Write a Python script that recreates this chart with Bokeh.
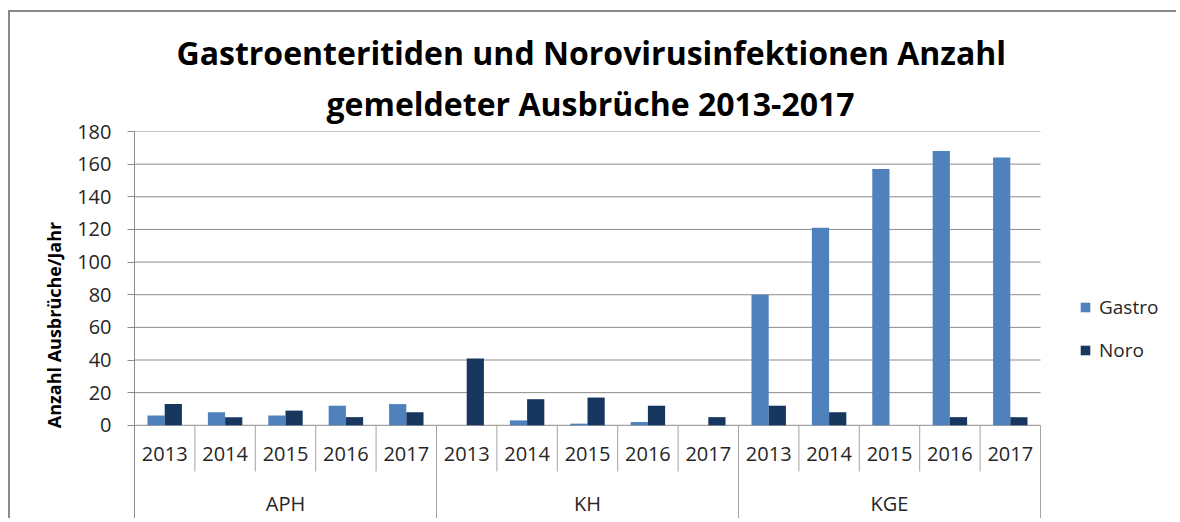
from bokeh.plotting import figure
from bokeh.models import ColumnDataSource, Range1d, FixedTicker, Legend, LegendItem, Title
from bokeh.core.properties import value
from bokeh.transform import dodge
from bokeh.embed import file_html
from bokeh.resources import INLINE

# ---------------- data ----------------
groups = ["APH", "KH", "KGE"]
years = ["2013", "2014", "2015", "2016", "2017"]

gastro_aph = [6, 8, 6, 12, 13]
noro_aph = [13, 5, 9, 5, 8]
gastro_kh = [0, 3, 1, 2, 0]
noro_kh = [41, 16, 17, 12, 5]
gastro_kge = [80, 121, 157, 168, 164]
noro_kge = [12, 8, 0, 5, 5]

y_ticks = [0, 20, 40, 60, 80, 100, 120, 140, 160, 180]
series_names = ["Gastro", "Noro"]
title_lines = ["Gastroenteritiden und Norovirusinfektionen Anzahl",
               "gemeldeter Ausbrüche 2013-2017"]
y_label = "Anzahl Ausbrüche/Jahr"

# ---------------- styling ----------------
C_GASTRO = "#4F81BD"
C_NORO = "#17375E"
GRID = "#8C8C8C"
SEP = "#A3A3A3"
TXT = "#262626"
FONT = "Open Sans"
BAR_W = 0.285
Y_MIN = -57.1          # space below zero used for the category labels
YEAR_LABEL_Y = -17.8
GROUP_LABEL_Y = -47.9
YEAR_SEP_Y = -28.3
PLOT_PX = 906          # width of the category area in px
FRAME_PX = 1036        # frame width incl. legend area in px
FIG_W = 1168

gastro = gastro_aph + gastro_kh + gastro_kge
noro = noro_aph + noro_kh + noro_kge
n_years = len(years)
slots = [(g, y) for g in groups for y in years]
n_slots = len(slots)
centers = [i + 0.5 for i in range(n_slots)]
x_max = n_slots * FRAME_PX / PLOT_PX

src = ColumnDataSource(dict(
    x=centers,
    gastro=gastro,
    noro=noro,
    year=[s[1] for s in slots],
    group=[s[0] for s in slots],
))

p = figure(width=FIG_W, height=508,
           x_range=Range1d(0, x_max), y_range=Range1d(Y_MIN, y_ticks[-1]),
           output_backend="svg", toolbar_location=None, title=None,
           x_axis_location=None,
           min_border_left=124, min_border_right=FIG_W - 124 - FRAME_PX,
           min_border_top=119, min_border_bottom=2,
           outline_line_color=None)
p.styles = {"border-left": "2px solid #8A8A8A", "border-top": "2px solid #8A8A8A",
            "border-right": "none", "border-bottom": "none",
            "margin-left": "8px", "margin-top": "10px"}

# horizontal grid lines (only across the category area)
p.segment(x0=[0] * len(y_ticks), y0=y_ticks, x1=[n_slots] * len(y_ticks), y1=y_ticks,
          line_color=GRID, line_width=1)

r_g = p.vbar(x=dodge("x", -BAR_W / 2, range=p.x_range), top="gastro", bottom=0,
             width=BAR_W, source=src, fill_color=C_GASTRO, line_color=None)
r_n = p.vbar(x=dodge("x", BAR_W / 2, range=p.x_range), top="noro", bottom=0,
             width=BAR_W, source=src, fill_color=C_NORO, line_color=None)

# category separators
inner = [gi * n_years + j for gi in range(len(groups)) for j in range(1, n_years)]
outer = [gi * n_years for gi in range(len(groups) + 1)]
p.segment(x0=inner, y0=[0] * len(inner), x1=inner, y1=[YEAR_SEP_Y] * len(inner),
          line_color=SEP, line_width=1)
p.segment(x0=outer, y0=[0] * len(outer), x1=outer, y1=[Y_MIN] * len(outer),
          line_color=SEP, line_width=1)

# category labels
p.text(x="x", y=YEAR_LABEL_Y, text="year", source=src,
       text_align="center", text_baseline="middle",
       text_font=value(FONT), text_font_size="20px", text_color=TXT)
p.text(x=[gi * n_years + n_years / 2 for gi in range(len(groups))],
       y=[GROUP_LABEL_Y] * len(groups), text=groups,
       text_align="center", text_baseline="middle",
       text_font=value(FONT), text_font_size="20px", text_color=TXT)

# y axis
ax = p.yaxis[0]
ax.ticker = FixedTicker(ticks=y_ticks)
ax.axis_line_color = GRID
ax.major_tick_line_color = GRID
ax.major_tick_out = 7
ax.major_tick_in = 0
ax.minor_tick_line_color = None
ax.major_label_standoff = 16
ax.major_label_text_font = FONT
ax.major_label_text_font_size = "20px"
ax.major_label_text_color = TXT
ax.axis_label = y_label
ax.axis_label_text_font = FONT
ax.axis_label_text_font_size = "18px"
ax.axis_label_text_font_style = "bold"
ax.axis_label_text_color = "#000000"
ax.axis_label_standoff = 8

p.ygrid.visible = False
p.xgrid.visible = False

legend = Legend(items=[LegendItem(label=series_names[0], renderers=[r_g]),
                       LegendItem(label=series_names[1], renderers=[r_n])],
                location=(945, 155), margin=0, padding=0,
                glyph_width=12, glyph_height=12, label_standoff=8,
                label_height=20, spacing=17,
                label_text_font=FONT, label_text_font_size="19px",
                label_text_color=TXT,
                border_line_color=None, background_fill_alpha=0)
p.add_layout(legend)

p.add_layout(Title(text=title_lines[1], align="left", text_font=FONT,
                   text_font_size="32px", text_font_style="bold",
                   text_color="#000000", offset=192, standoff=13), "above")
p.add_layout(Title(text=title_lines[0], align="left", text_font=FONT,
                   text_font_size="32px", text_font_style="bold",
                   text_color="#000000", offset=42, standoff=0), "above")

open("out.html", "w").write(file_html(p, INLINE))
